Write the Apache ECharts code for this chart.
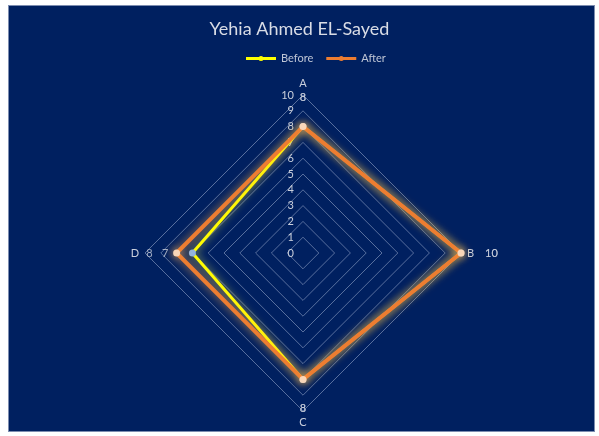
<!DOCTYPE html>
<html>
<head>
<meta charset="utf-8">
<script src="https://cdn.jsdelivr.net/npm/echarts@6/dist/echarts.min.js"></script>
<style>
  html, body { margin: 0; padding: 0; background: #ffffff; }
  #wrap { position: relative; width: 599px; height: 436px; }
  #panel { position: absolute; left: 8px; top: 5px; width: 587px; height: 427px;
           background: #002060; border: 1px solid #7d8db0; box-sizing: border-box; }
  #chart { position: absolute; left: 0; top: 0; width: 599px; height: 436px; }
</style>
</head>
<body>
<div id="wrap">
  <div id="panel"></div>
  <div id="chart"></div>
</div>
<script>
// Scores per category
const categories = ['A', 'B', 'C', 'D'];
const beforeValues = [8, 10, 8, 7];
const afterValues = [8, 10, 8, 8];
const maxValue = 10;
const tickStep = 1;

const CENTER = [303, 253];
const RADIUS = 158;
const labelColor = '#c9cfdc';

// Radar lays indicators out counter-clockwise from the top, so list them
// as A, D, C, B to put B on the right and D on the left.
const radarOrder = [0, 3, 2, 1];
const indicators = radarOrder.map(i => ({ name: categories[i], max: maxValue, min: 0 }));
const reorder = arr => radarOrder.map(i => arr[i]);

// Data labels sit just outside each vertex, in the direction of its axis
const labelPos = ['top', 'right', 'bottom', 'left'];
function labelPoints(values) {
  return values.map((v, i) => ({
    value: [v, i * 90],
    label: { position: labelPos[i] }
  }));
}

const chart = echarts.init(document.getElementById('chart'), null, { renderer: 'canvas' });

chart.setOption({
  backgroundColor: 'transparent',
  animation: false,
  title: {
    text: 'Yehia Ahmed EL-Sayed',
    left: 'center',
    top: 15,
    textStyle: { color: '#d9dde6', fontSize: 18, fontWeight: 'normal', fontFamily: 'Lato' }
  },
  legend: {
    top: 48,
    left: 241,
    itemWidth: 30,
    itemHeight: 7,
    itemGap: 13,
    icon: 'path://M0,2H30V5H0Z M17.5,3.5A2.5,2.5 0 1,1 12.5,3.5A2.5,2.5 0 1,1 17.5,3.5Z',
    textStyle: { color: '#bfc6d6', fontSize: 11, fontFamily: 'Lato' },
    data: ['Before', 'After']
  },
  radar: {
    center: CENTER,
    radius: RADIUS,
    startAngle: 90,
    splitNumber: maxValue / tickStep,
    shape: 'polygon',
    indicator: indicators,
    nameGap: 6,
    axisName: { color: labelColor, fontSize: 11, fontFamily: 'Lato' },
    axisLine: { show: false },
    axisTick: { show: false },
    splitArea: { show: false },
    splitLine: { lineStyle: { color: 'rgba(175,190,220,0.5)', width: 1 } }
  },
  polar: { center: CENTER, radius: RADIUS },
  angleAxis: { type: 'value', min: 0, max: 360, startAngle: 90, clockwise: true, show: false },
  radiusAxis: {
    type: 'value', min: 0, max: maxValue, interval: tickStep,
    axisLine: { show: false }, axisTick: { show: false }, splitLine: { show: false },
    axisLabel: { color: labelColor, fontSize: 11, fontFamily: 'Lato', margin: 9 }
  },
  series: [
    {
      name: 'Before',
      type: 'radar',
      z: 3,
      symbol: 'circle',
      symbolSize: 7,
      itemStyle: { color: '#ffff00' },
      lineStyle: { color: '#ffff00', width: 3, shadowBlur: 8, shadowColor: 'rgba(255,255,80,0.7)' },
      data: [{
        value: reorder(beforeValues),
        name: 'Before',
        itemStyle: { color: '#8fb4e3' }
      }]
    },
    {
      name: 'After',
      type: 'radar',
      z: 4,
      symbol: 'circle',
      symbolSize: 7,
      itemStyle: { color: '#ed7d31' },
      lineStyle: { color: '#ed7d31', width: 4, shadowBlur: 10, shadowColor: 'rgba(255,170,70,0.8)' },
      data: [{
        value: reorder(afterValues),
        name: 'After',
        itemStyle: { color: '#f9d6b8', shadowBlur: 8, shadowColor: 'rgba(255,180,90,0.9)' }
      }]
    },
    {
      name: 'Before labels',
      type: 'scatter',
      coordinateSystem: 'polar',
      symbolSize: 0,
      silent: true,
      label: { show: true, distance: 24, color: labelColor, fontSize: 11, fontFamily: 'Lato',
               formatter: p => String(p.value[0]) },
      data: labelPoints(beforeValues)
    },
    {
      name: 'After labels',
      type: 'scatter',
      coordinateSystem: 'polar',
      symbolSize: 0,
      silent: true,
      label: { show: true, distance: 24, color: labelColor, fontSize: 11, fontFamily: 'Lato',
               formatter: p => String(p.value[0]) },
      data: labelPoints(afterValues)
    }
  ]
});
</script>
</body>
</html>
